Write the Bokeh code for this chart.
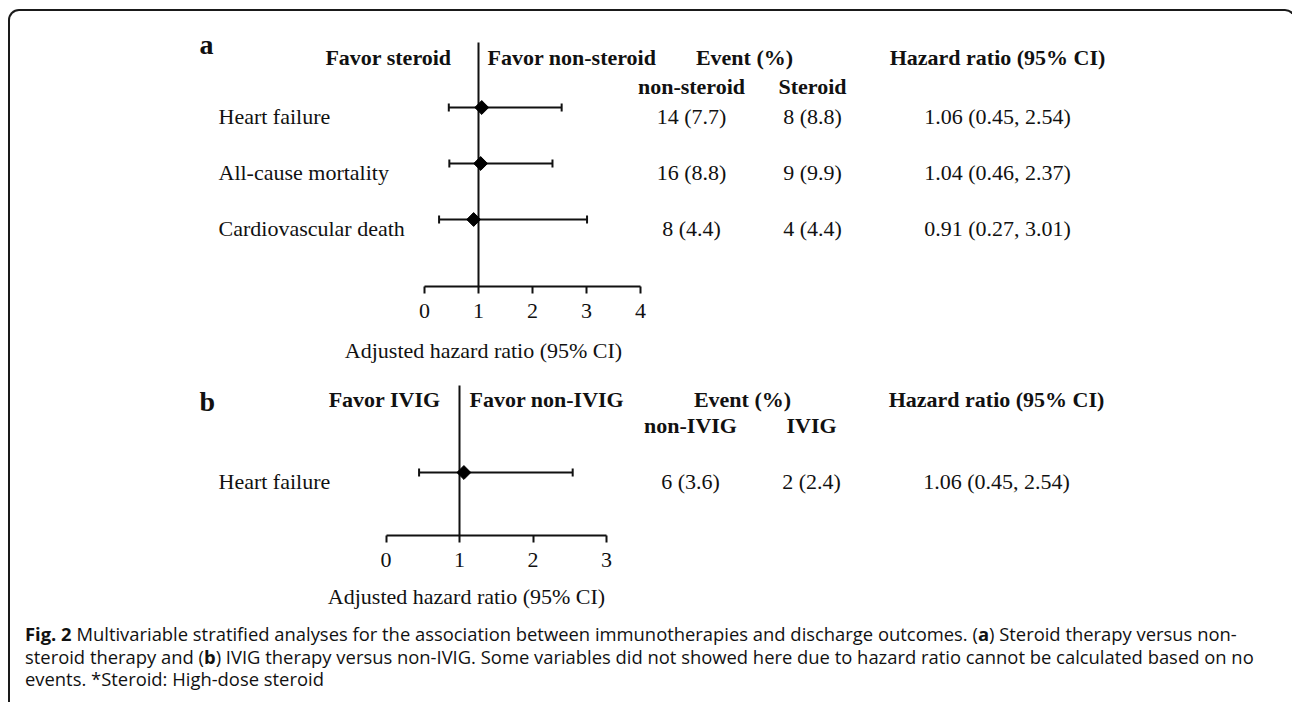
import numpy as np
from bokeh.plotting import figure
from bokeh.models import Range1d, LinearAxis, FixedTicker, Div
from bokeh.layouts import column
from bokeh.embed import file_html
from bokeh.resources import INLINE
from bokeh.core.properties import value

# ---------------- data ----------------
a_outcomes = ["Heart failure", "All-cause mortality", "Cardiovascular death"]
a_hr = [1.06, 1.04, 0.91]
a_lo = [0.45, 0.46, 0.27]
a_hi = [2.54, 2.37, 3.01]
a_non_n = [14, 16, 8]
a_non_pct = [7.7, 8.8, 4.4]
a_trt_n = [8, 9, 4]
a_trt_pct = [8.8, 9.9, 4.4]
a_ticks = [0, 1, 2, 3, 4]

b_outcomes = ["Heart failure"]
b_hr = [1.06]
b_lo = [0.45]
b_hi = [2.54]
b_non_n = [6]
b_non_pct = [3.6]
b_trt_n = [2]
b_trt_pct = [2.4]
b_ticks = [0, 1, 2, 3]

x_title = "Adjusted hazard ratio (95% CI)"

caption_html = (
    "<b>Fig. 2</b> Multivariable stratified analyses for the association between immunotherapies "
    "and discharge outcomes. (<b>a</b>) Steroid therapy versus non-<br>"
    "steroid therapy and (<b>b</b>) IVIG therapy versus non-IVIG. Some variables did not showed here "
    "due to hazard ratio cannot be calculated based on no<br>"
    "events. *Steroid: High-dose steroid"
)

# ---------------- layout constants (screen px) ----------------
X0 = 10          # screen x of the figures' left edge
W = 1274
SERIF = value("Liberation Serif")
INK = "#111111"


def base_fig(top, bottom, height, x_range):
    frame_h = bottom - top
    p = figure(width=W, height=height, x_range=x_range,
               y_range=Range1d(bottom, top),
               x_axis_type=None, y_axis_type=None,
               toolbar_location=None, output_backend="svg",
               min_border_left=0, min_border_right=0, min_border_top=0,
               min_border_bottom=height - frame_h)
    p.outline_line_color = None
    p.background_fill_color = None
    p.border_fill_color = None
    return p


def txt(p, x, y, t, size="22px", bold=False, align="left", xr="px"):
    kw = dict(x_range_name=xr) if xr else {}
    p.text(x=x, y=y, text=t, text_font=SERIF,
           text_font_size=size, text_font_style="bold" if bold else "normal",
           text_align=align, text_baseline="alphabetic", text_color=INK, **kw)


def make_panel(top, axis_y, height, hr0, unit, ticks, letter, letter_base,
               fav_left, fav_right, fav_left_x, fav_right_x, head_base,
               sub_left, sub_right, sub_base, vtop, row0, row_gap,
               outcomes, hr, lo, hi, non_n, non_pct, trt_n, trt_pct,
               col_non, col_trt, col_hr, ev_x):
    p = base_fig(top, axis_y, height,
                 Range1d((X0 - hr0) / unit, (X0 + W - hr0) / unit))
    p.extra_x_ranges = {"px": Range1d(X0, X0 + W)}

    ax = LinearAxis(ticker=FixedTicker(ticks=ticks), bounds=(ticks[0], ticks[-1]))
    ax.axis_line_width = 2
    ax.axis_line_color = INK
    ax.major_tick_line_width = 2
    ax.major_tick_line_color = INK
    ax.major_tick_out = 7
    ax.major_tick_in = 0
    ax.minor_tick_out = 0
    ax.minor_tick_in = 0
    ax.major_label_text_font = "Liberation Serif"
    ax.major_label_text_font_size = "22px"
    ax.major_label_text_color = INK
    ax.major_label_standoff = 10
    p.add_layout(ax, "below")

    n = len(outcomes)
    rows = [row0 + i * row_gap for i in range(n)]
    base = [r + 8.5 for r in rows]

    # null line at HR = 1
    p.segment(x0=[1], y0=[vtop], x1=[1], y1=[axis_y], line_width=2, line_color=INK)
    # confidence intervals with end caps
    p.segment(x0=lo, y0=rows, x1=hi, y1=rows, line_width=2, line_color=INK)
    p.segment(x0=lo, y0=[r - 4 for r in rows], x1=lo, y1=[r + 4 for r in rows],
              line_width=2, line_color=INK)
    p.segment(x0=hi, y0=[r - 4 for r in rows], x1=hi, y1=[r + 4 for r in rows],
              line_width=2, line_color=INK)
    p.scatter(x=hr, y=rows, marker="square", angle=np.pi / 4, size=9.8,
              fill_color="black", line_color="black")

    txt(p, [199], [letter_base], [letter], size="28px", bold=True)
    txt(p, [fav_left_x], [head_base], [fav_left], bold=True, align="right")
    txt(p, [fav_right_x], [head_base], [fav_right], bold=True)
    txt(p, [ev_x], [head_base], ["Event (%)"], bold=True, align="center")
    txt(p, [col_hr], [head_base], ["Hazard ratio (95% CI)"], bold=True, align="center")
    txt(p, [col_non], [sub_base], [sub_left], bold=True, align="center")
    txt(p, [col_trt], [sub_base], [sub_right], bold=True, align="center")

    txt(p, [218] * n, base, outcomes)
    txt(p, [col_non] * n, base, [f"{a} ({b:.1f})" for a, b in zip(non_n, non_pct)],
        align="center")
    txt(p, [col_trt] * n, base, [f"{a} ({b:.1f})" for a, b in zip(trt_n, trt_pct)],
        align="center")
    txt(p, [col_hr] * n, base,
        [f"{h:.2f} ({l:.2f}, {u:.2f})" for h, l, u in zip(hr, lo, hi)], align="center")
    return p


# figure A: screen y 11 .. 330, axis at 286
pa = make_panel(top=11, axis_y=286, height=319, hr0=424, unit=54, ticks=a_ticks,
                letter="a", letter_base=44,
                fav_left="Favor steroid", fav_right="Favor non-steroid",
                fav_left_x=451, fav_right_x=487, head_base=57,
                sub_left="non-steroid", sub_right="Steroid", sub_base=86,
                vtop=42, row0=107, row_gap=56,
                outcomes=a_outcomes, hr=a_hr, lo=a_lo, hi=a_hi,
                non_n=a_non_n, non_pct=a_non_pct, trt_n=a_trt_n, trt_pct=a_trt_pct,
                col_non=691, col_trt=812, col_hr=997, ev_x=744)

# figure B: screen y 330 .. 579, axis at 535
pb = make_panel(top=330, axis_y=535, height=249, hr0=385.5, unit=73.5, ticks=b_ticks,
                letter="b", letter_base=401,
                fav_left="Favor IVIG", fav_right="Favor non-IVIG",
                fav_left_x=440, fav_right_x=469, head_base=399,
                sub_left="non-IVIG", sub_right="IVIG", sub_base=425,
                vtop=385, row0=472, row_gap=56,
                outcomes=b_outcomes, hr=b_hr, lo=b_lo, hi=b_hi,
                non_n=b_non_n, non_pct=b_non_pct, trt_n=b_trt_n, trt_pct=b_trt_pct,
                col_non=690, col_trt=811, col_hr=996, ev_x=742)
# x-axis title of panel a (lies just under panel a's tick labels)
txt(pb, [483], [350], [x_title], align="center")

# strip with the x-axis title of panel b: screen y 579 .. 612
pc = base_fig(579, 612, 33, Range1d(X0, X0 + W))
txt(pc, [466], [596], [x_title], align="center", xr=None)

caption = Div(
    text=("<div style=\"font-family:'Open Sans'; font-size:18.4px; line-height:22.5px; "
          "padding:6px 0 0 10px; white-space:nowrap; color:#111;\">" + caption_html + "</div>"),
    width=W, height=86)

layout = column(pa, pb, pc, caption, spacing=0,
                styles={"margin-left": "8px", "margin-top": "9px",
                        "border-top": "2px solid #1a1a1a",
                        "border-left": "2px solid #1a1a1a",
                        "border-right": "2px solid #1a1a1a",
                        "border-top-left-radius": "11px",
                        "border-top-right-radius": "11px"})

open("out.html", "w").write(file_html(layout, INLINE))
